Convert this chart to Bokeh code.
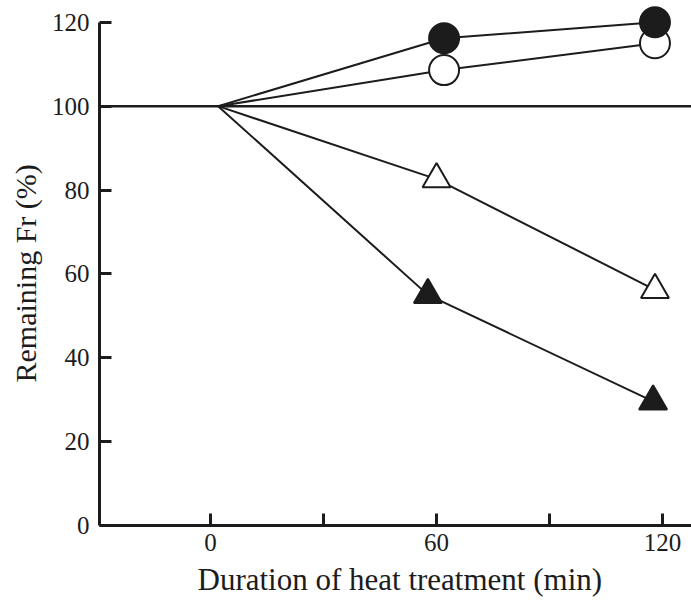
from bokeh.plotting import figure
from bokeh.models import FixedTicker, Span, Range1d, Title
from bokeh.embed import file_html
from bokeh.resources import INLINE

# Data
fc_x = [2, 62, 118]
fc_y = [100, 116.2, 120]
oc_x = [2, 62, 118]
oc_y = [100, 108.6, 115]
ot_x = [2, 60, 118]
ot_y = [100, 82.6, 56.2]
ft_x = [2, 57.7, 117.5]
ft_y = [100, 55.0, 29.6]

x_ticks = [0, 30, 60, 90, 120]
x_tick_labels = {0: "0", 30: "", 60: "60", 90: "", 120: "120"}
y_ticks = [0, 20, 40, 60, 80, 100, 120]
x_title = "Duration of heat treatment (min)"
y_title = "Remaining Fr (%)"

INK = "#1c1c1c"
FONT = "Liberation Serif"

p = figure(width=691, height=603, output_backend="svg", toolbar_location=None,
           title=None, x_range=Range1d(-29.5, 127.7), y_range=Range1d(0, 125.2),
           min_border_left=99, min_border_right=0, min_border_top=0, min_border_bottom=78)
p.outline_line_color = None
p.xgrid.visible = False
p.ygrid.visible = False
p.background_fill_color = "white"

for ax in (p.xaxis[0], p.yaxis[0]):
    ax.axis_line_width = 3
    ax.axis_line_color = INK
    ax.major_tick_line_color = INK
    ax.major_tick_line_width = 3
    ax.major_tick_in = 12
    ax.major_tick_out = 0
    ax.minor_tick_line_color = None
    ax.major_label_text_font = FONT
    ax.major_label_text_font_size = "25px"
    ax.major_label_text_color = INK

p.xaxis.ticker = FixedTicker(ticks=x_ticks)
p.xaxis.major_label_overrides = x_tick_labels
p.xaxis.major_label_standoff = 8

p.yaxis.ticker = FixedTicker(ticks=y_ticks)
p.yaxis.bounds = (0, 120)
p.yaxis.major_label_standoff = 10

p.add_layout(Title(text=x_title, align="left", offset=98, text_font=FONT,
                   text_font_size="31px", text_font_style="normal",
                   text_color=INK, standoff=12), "below")
p.add_layout(Title(text=y_title, align="left", offset=143, text_font=FONT,
                   text_font_size="30px", text_font_style="normal",
                   text_color=INK, standoff=13), "left")

p.add_layout(Span(location=100, dimension="width", line_color=INK, line_width=2.5))

for xs, ys in ((fc_x, fc_y), (oc_x, oc_y), (ot_x, ot_y), (ft_x, ft_y)):
    p.line(xs, ys, line_color=INK, line_width=2)

p.scatter(ot_x[1:], ot_y[1:], marker="triangle", size=28, fill_color="white",
          line_color=INK, line_width=2)
p.scatter(ft_x[1:], ft_y[1:], marker="triangle", size=28, fill_color=INK,
          line_color=INK, line_width=2)
p.scatter(oc_x[1:], oc_y[1:], marker="circle", size=30, fill_color="white",
          line_color=INK, line_width=2)
p.scatter(fc_x[1:], fc_y[1:], marker="circle", size=30, fill_color=INK,
          line_color=INK, line_width=2)

open("out.html", "w").write(file_html(p, INLINE))
